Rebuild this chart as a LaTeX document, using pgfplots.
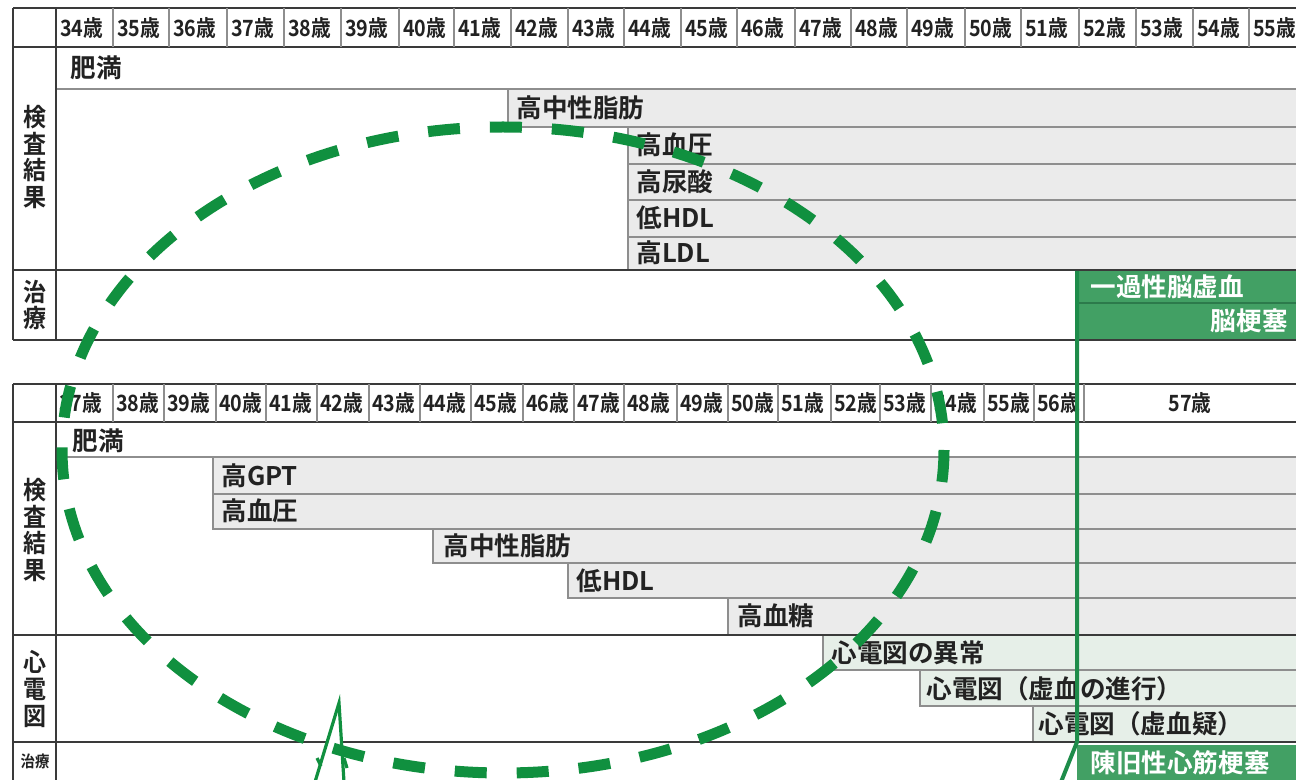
\documentclass[border=0pt]{standalone}
\usepackage{pgfplots}
\pgfplotsset{compat=1.18}
\usepackage{fontspec}
\setmainfont{Noto Sans CJK JP}[BoldFont={Noto Sans CJK JP Bold}]

\definecolor{barfill}{HTML}{EBEBEB}
\definecolor{ecgfill}{HTML}{E6EFE8}
\definecolor{gridc}{HTML}{8E8E8E}
\definecolor{rulec}{HTML}{3A3A3A}
\definecolor{treat}{HTML}{42A064}
\definecolor{treatdark}{HTML}{2C7A4B}
\definecolor{loopc}{HTML}{10903F}
\definecolor{vline}{HTML}{1E8C4A}
\definecolor{txt}{HTML}{222222}

% x0, y0, y1, fill : bar running to the right edge
\newcommand{\bbox}[4]{%
  \addplot[fill=#4,draw=none] coordinates {(#1,#2) (1300,#2) (1300,#3) (#1,#3)};
  \addplot[gridc,line width=0.9pt] coordinates {(1300,#2) (#1,#2) (#1,#3) (1300,#3)};}
% x0, x1, y
\newcommand{\hseg}[4][gridc]{\addplot[#1,line width=0.9pt] coordinates {(#2,#4) (#3,#4)};}
% x, y0, y1
\newcommand{\vseg}[4][gridc]{\addplot[#1,line width=0.9pt] coordinates {(#2,#3) (#2,#4)};}
\newcommand{\lbl}[3]{\node[anchor=west,inner sep=0pt,text=txt,font=\fontsize{12.8}{13}\selectfont\bfseries] at (axis cs:#1,#2) {#3};}
\newcommand{\hd}[3]{\node[anchor=west,inner sep=0pt,text=txt,xscale=0.88,font=\fontsize{11.2}{11}\selectfont\bfseries] at (axis cs:#1,#2) {#3歳};}
\newcommand{\side}[3]{\node[align=center,inner sep=0pt,text=txt,xscale=0.92,font=\fontsize{12.5}{13.4}\selectfont\bfseries] at (axis cs:#1,#2) {#3};}

\begin{document}
\begin{tikzpicture}
\begin{axis}[
    scale only axis,
    width=648pt, height=390pt,
    xmin=0, xmax=1296, ymin=0, ymax=780,
    y dir=reverse,
    hide axis,
]
% background
\addplot[fill=white,draw=none] coordinates {(0,0) (1296,0) (1296,780) (0,780)};

% ---------------- upper table ----------------
\bbox{508}{89}{127}{barfill}
\bbox{628}{127}{164}{barfill}
\bbox{628}{164}{200}{barfill}
\bbox{628}{200}{237}{barfill}
\bbox{628}{237}{270}{barfill}
\addplot[fill=treat,draw=none] coordinates {(1077,271) (1300,271) (1300,339) (1077,339)};
\hseg[treatdark]{1077}{1300}{303}

\hseg[rulec]{13}{1300}{8}
\hseg[rulec]{13}{1300}{47}
\hseg{56}{1300}{89}
\hseg[rulec]{13}{1300}{270}
\hseg[rulec]{13}{1300}{340}
\vseg[rulec]{13}{8}{340}
\vseg[rulec]{56}{8}{340}
\vseg{113}{8}{47} \vseg{169}{8}{47} \vseg{227}{8}{47} \vseg{284}{8}{47}
\vseg{341}{8}{47} \vseg{399}{8}{47} \vseg{454}{8}{47} \vseg{511}{8}{47}
\vseg{568}{8}{47} \vseg{624}{8}{47} \vseg{681}{8}{47} \vseg{737}{8}{47}
\vseg{795}{8}{47} \vseg{851}{8}{47} \vseg{907}{8}{47} \vseg{965}{8}{47}
\vseg{1021}{8}{47} \vseg{1079}{8}{47} \vseg{1136}{8}{47} \vseg{1193}{8}{47}
\vseg{1249}{8}{47}

\hd{60}{28}{34} \hd{117}{28}{35} \hd{173}{28}{36} \hd{231}{28}{37}
\hd{288}{28}{38} \hd{345}{28}{39} \hd{403}{28}{40} \hd{458}{28}{41}
\hd{515}{28}{42} \hd{572}{28}{43} \hd{628}{28}{44} \hd{685}{28}{45}
\hd{741}{28}{46} \hd{799}{28}{47} \hd{855}{28}{48} \hd{911}{28}{49}
\hd{969}{28}{50} \hd{1025}{28}{51} \hd{1083}{28}{52} \hd{1140}{28}{53}
\hd{1197}{28}{54} \hd{1253}{28}{55}

\side{35}{157}{検\\査\\結\\果}
\side{35}{305}{治\\療}

\lbl{70}{68}{肥満}
\lbl{516}{108}{高中性脂肪}
\lbl{636}{145}{高血圧}
\lbl{636}{182}{高尿酸}
\lbl{636}{218}{低HDL}
\lbl{636}{253}{高LDL}
\node[anchor=west,inner sep=0pt,text=white,font=\fontsize{12.8}{13}\selectfont\bfseries] at (axis cs:1090,287) {一過性脳虚血};
\node[anchor=east,inner sep=0pt,text=white,font=\fontsize{12.8}{13}\selectfont\bfseries] at (axis cs:1288,321) {脳梗塞};

% ---------------- lower table ----------------
\bbox{213}{457}{494}{barfill}
\bbox{213}{494}{529}{barfill}
\bbox{433}{529}{563}{barfill}
\bbox{568}{563}{598}{barfill}
\bbox{728}{598}{635}{barfill}
\bbox{823}{635}{670}{ecgfill}
\bbox{920}{670}{706}{ecgfill}
\bbox{1033}{706}{742}{ecgfill}
\addplot[fill=treat,draw=none] coordinates {(1077,745) (1300,745) (1300,790) (1077,790)};

\hseg[rulec]{13}{1300}{384}
\hseg[rulec]{13}{1300}{422}
\hseg{56}{1300}{457}
\hseg[rulec]{13}{1300}{635}
\hseg[rulec]{13}{1300}{742}
\vseg[rulec]{13}{384}{790}
\vseg[rulec]{56}{384}{790}
\vseg{113}{384}{422} \vseg{164}{384}{422} \vseg{216}{384}{422} \vseg{266}{384}{422}
\vseg{317}{384}{422} \vseg{369}{384}{422} \vseg{420}{384}{422} \vseg{471}{384}{422}
\vseg{523}{384}{422} \vseg{574}{384}{422} \vseg{624}{384}{422} \vseg{677}{384}{422}
\vseg{728}{384}{422} \vseg{778}{384}{422} \vseg{831}{384}{422} \vseg{880}{384}{422}
\vseg{931}{384}{422} \vseg{984}{384}{422} \vseg{1034}{384}{422} \vseg{1084}{384}{422}

\hd{59}{403}{37} \hd{116}{403}{38} \hd{167}{403}{39} \hd{219}{403}{40}
\hd{269}{403}{41} \hd{320}{403}{42} \hd{372}{403}{43} \hd{423}{403}{44}
\hd{474}{403}{45} \hd{526}{403}{46} \hd{577}{403}{47} \hd{627}{403}{48}
\hd{680}{403}{49} \hd{731}{403}{50} \hd{781}{403}{51} \hd{834}{403}{52}
\hd{883}{403}{53} \hd{934}{403}{54} \hd{987}{403}{55} \hd{1037}{403}{56}
\node[inner sep=0pt,text=txt,xscale=0.88,font=\fontsize{11.2}{11}\selectfont\bfseries] at (axis cs:1190,403) {57歳};

\side{35}{530}{検\\査\\結\\果}
\side{35}{689}{心\\電\\図}
\node[inner sep=0pt,text=txt,xscale=0.9,font=\fontsize{8}{8}\selectfont\bfseries] at (axis cs:35,761) {治療};

\lbl{72}{441}{肥満}
\lbl{221}{476}{高GPT}
\lbl{221}{511}{高血圧}
\lbl{443}{546}{高中性脂肪}
\lbl{576}{581}{低HDL}
\lbl{737}{616}{高血糖}
\lbl{831}{653}{心電図の異常}
\lbl{926}{689}{心電図（虚血の進行）}
\lbl{1038}{724}{心電図（虚血疑）}
\node[anchor=west,inner sep=0pt,text=white,font=\fontsize{12.8}{13}\selectfont\bfseries] at (axis cs:1090,763) {陳旧性心筋梗塞};

% ---------------- green overlays ----------------
\addplot[vline,line width=2pt] coordinates {(1077,271) (1077,742) (1061,782)};
\addplot[loopc,line width=1.6pt,fill=white] coordinates {(315,782) (339,703) (344,782)};
\addplot[loopc,line width=1.6pt] coordinates {(317,758) (321,766)};
\addplot[loopc,line width=1.6pt] coordinates {(344,758) (347,768)};
\draw[loopc,line width=5.5pt,dash pattern=on 16pt off 15pt] (axis cs:503,450) ellipse [x radius=441, y radius=323];
\end{axis}
\end{tikzpicture}
\end{document}
